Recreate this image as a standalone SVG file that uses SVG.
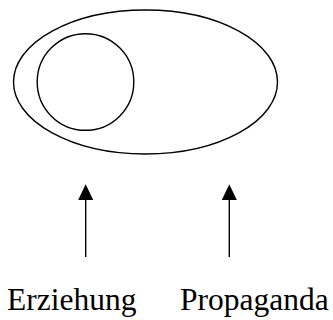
<svg xmlns="http://www.w3.org/2000/svg" width="333" height="320" viewBox="0 0 333 320">
<style>
.sh{fill:none;stroke:#000;stroke-width:1.4}
.ln{stroke:#000;stroke-width:1.4;fill:none}
.ah{fill:#000}
.lb{font-family:'Liberation Serif','Times New Roman',serif;font-size:31.5px;fill:#000}
</style>
<rect width="333" height="320" fill="#fff"/>
<g id="outer"><ellipse class="sh" cx="145.5" cy="82" rx="132" ry="72"/></g>
<g id="inner"><circle class="sh" cx="85.5" cy="82" r="48.3"/></g>
<g id="connectors">
<line class="ln" x1="85.7" y1="257" x2="85.7" y2="198"/>
<polygon class="ah" points="85.7,184.3 78.2,200 93.2,200"/>
<line class="ln" x1="229.3" y1="257" x2="229.3" y2="198"/>
<polygon class="ah" points="229.3,184.3 221.8,200 236.8,200"/>
</g>
<g id="erziehung"><text class="lb" x="7" y="310">Erziehung</text></g>
<g id="propaganda"><text class="lb" x="180" y="310">Propaganda</text></g>
</svg>
